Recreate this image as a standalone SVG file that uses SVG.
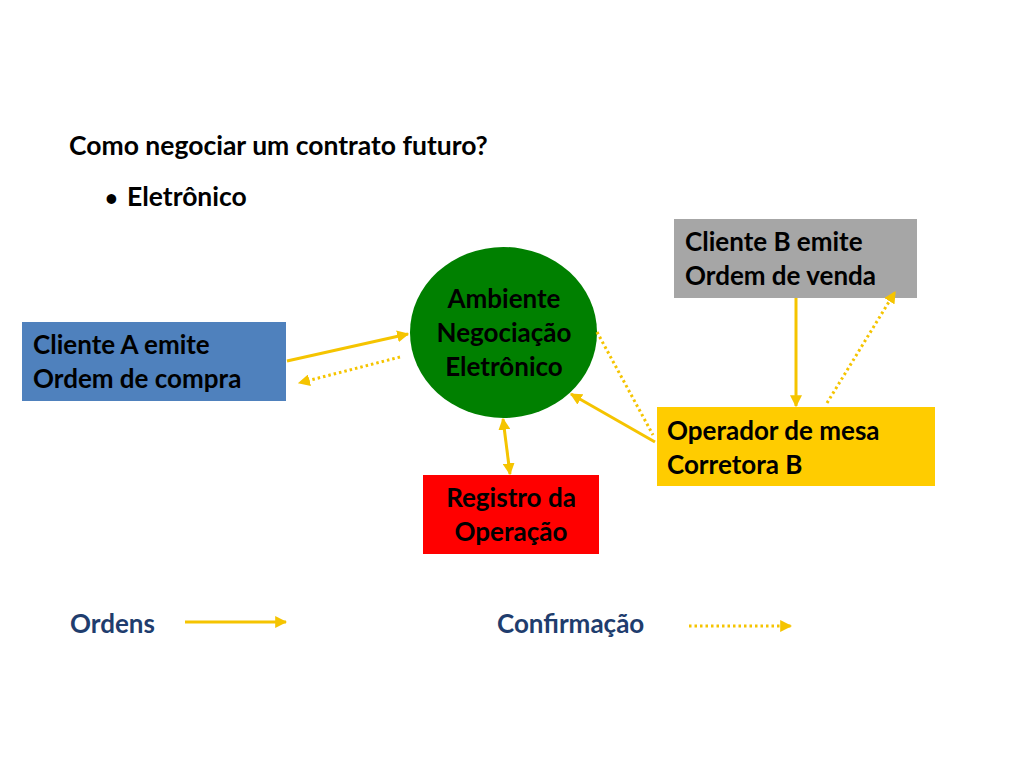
<svg xmlns="http://www.w3.org/2000/svg" width="1024" height="768" viewBox="0 0 1024 768">
<defs>
<style>
text{font-family:Lato,"Open Sans","Liberation Sans",sans-serif;font-weight:bold;}
.t{font-size:26.5px;fill:#000;}
.n{font-size:26px;fill:#000;}
.lg{font-size:26px;fill:#1F3D6E;}
.s{stroke:#F5C400;stroke-width:3;fill:none;}
.d{stroke:#F5C400;stroke-width:3;fill:none;stroke-dasharray:2.5 3;}
</style>
<marker id="ah" viewBox="0 0 10 10" refX="9" refY="5" markerWidth="4" markerHeight="4" orient="auto-start-reverse" markerUnits="strokeWidth">
<path d="M0,0 L10,5 L0,10 z" fill="#F5C400"/>
</marker>
</defs>
<rect width="1024" height="768" fill="#fff"/>
<g id="title">
<text class="t" x="69" y="155">Como negociar um contrato futuro?</text>
<text class="t" x="105" y="206" style="font-size:22px">•</text>
<text class="t" x="127" y="206">Eletrônico</text>
</g>
<g id="clienteB">
<rect x="674" y="219" width="243" height="79" fill="#A6A6A6"/>
<text class="n" x="685" y="251">Cliente B emite</text>
<text class="n" x="685" y="285">Ordem de venda</text>
</g>
<g id="ambiente">
<ellipse cx="503.5" cy="332.5" rx="93.5" ry="85.5" fill="#008000"/>
<text class="n" x="504" y="308" text-anchor="middle">Ambiente</text>
<text class="n" x="504" y="342" text-anchor="middle">Negociação</text>
<text class="n" x="504" y="376" text-anchor="middle">Eletrônico</text>
</g>
<g id="clienteA">
<rect x="22" y="322" width="264" height="79" fill="#4F81BD"/>
<text class="n" x="33" y="354">Cliente A emite</text>
<text class="n" x="33" y="388">Ordem de compra</text>
</g>
<g id="operador">
<rect x="657" y="407" width="278" height="79" fill="#FFCC00"/>
<text class="n" x="667" y="440">Operador de mesa</text>
<text class="n" x="667" y="474">Corretora B</text>
</g>
<g id="registro">
<rect x="423" y="475" width="176" height="79" fill="#FF0000"/>
<text class="n" x="511" y="507" text-anchor="middle">Registro da</text>
<text class="n" x="511" y="541" text-anchor="middle">Operação</text>
</g>
<g id="connectors">
<line class="s" x1="287" y1="361" x2="408" y2="334" marker-end="url(#ah)"/>
<line class="d" x1="400" y1="357" x2="299" y2="383" marker-end="url(#ah)"/>
<line class="s" x1="503" y1="419" x2="510" y2="474" marker-start="url(#ah)" marker-end="url(#ah)"/>
<line class="s" x1="655" y1="442" x2="571" y2="394" marker-end="url(#ah)"/>
<line class="d" x1="597" y1="332" x2="653" y2="435"/>
<line class="s" x1="796" y1="298" x2="796" y2="406" marker-end="url(#ah)"/>
<line class="d" x1="827" y1="403" x2="895" y2="292" marker-end="url(#ah)"/>
</g>
<g id="legend">
<text class="lg" x="70" y="633">Ordens</text>
<line class="s" x1="185" y1="622" x2="286" y2="622" marker-end="url(#ah)"/>
<text class="lg" x="497" y="633">Confirmação</text>
<line class="d" x1="689" y1="626" x2="791" y2="626" marker-end="url(#ah)"/>
</g>
</svg>
